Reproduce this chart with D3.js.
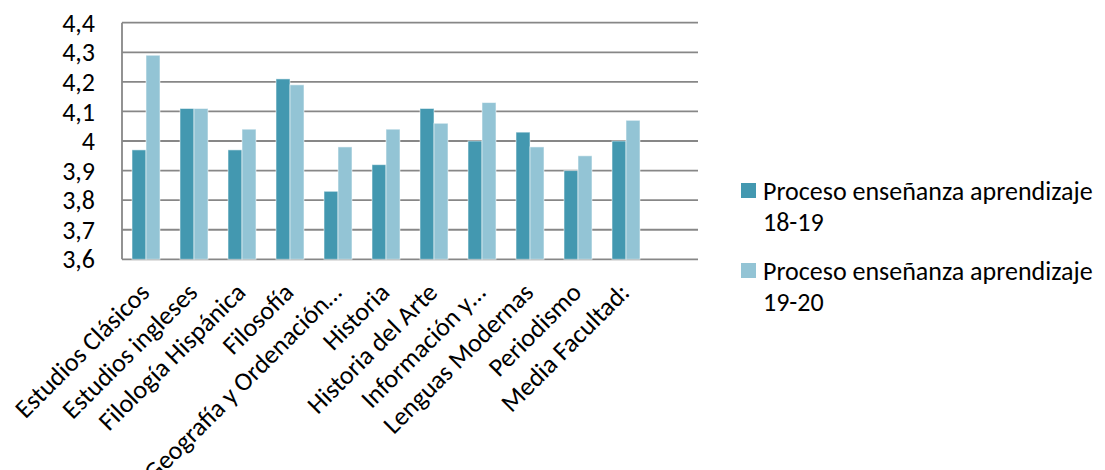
<!DOCTYPE html>
<html>
<head>
<meta charset="utf-8">
<script src="https://cdn.jsdelivr.net/npm/d3@7"></script>
<style>
  html, body { margin: 0; padding: 0; background: #fff; }
  svg { display: block; font-family: Carlito, Calibri, Lato, sans-serif; }
</style>
</head>
<body>
<svg id="chart" width="1105" height="470"></svg>
<script>
// ---- data ----
const categories = [
  "Estudios Clásicos", "Estudios ingleses", "Filología Hispánica", "Filosofía",
  "Geografía y Ordenación…", "Historia", "Historia del Arte", "Información y…",
  "Lenguas Modernas", "Periodismo", "Media Facultad:", ""
];
const seriesNames = ["Proceso enseñanza aprendizaje 18-19", "Proceso enseñanza aprendizaje 19-20"];
const values1819 = [3.97, 4.11, 3.97, 4.21, 3.83, 3.92, 4.11, 4.00, 4.03, 3.90, 4.00];
const values1920 = [4.29, 4.11, 4.04, 4.19, 3.98, 4.04, 4.06, 4.13, 3.98, 3.95, 4.07];
const yTickValues = [3.6, 3.7, 3.8, 3.9, 4.0, 4.1, 4.2, 4.3, 4.4];
const yTickLabels = ["3,6", "3,7", "3,8", "3,9", "4", "4,1", "4,2", "4,3", "4,4"];
const legendLines = [["Proceso enseñanza aprendizaje", "18-19"], ["Proceso enseñanza aprendizaje", "19-20"]];
const colors = ["#4398B0", "#93C4D5"];

// ---- layout ----
const plot = { left: 122, right: 698, top: 22.7, bottom: 259.3 };
const svg = d3.select("#chart");
const gridColor = "#878787";
const fontSize = 26;

const y = d3.scaleLinear().domain([3.6, 4.4]).range([plot.bottom, plot.top]);
const x0 = d3.scaleBand().domain(d3.range(categories.length))
  .range([plot.left, plot.right]).paddingInner(20 / 48).paddingOuter(10 / 48);
const x1 = d3.scaleBand().domain([0, 1]).range([0, x0.bandwidth()]);

// gridlines
svg.append("g").selectAll("line").data(yTickValues).join("line")
  .attr("x1", plot.left).attr("x2", plot.right)
  .attr("y1", d => y(d)).attr("y2", d => y(d))
  .attr("stroke", gridColor).attr("stroke-width", 1.8);

// left axis line
svg.append("line")
  .attr("x1", plot.left).attr("x2", plot.left)
  .attr("y1", y(4.4)).attr("y2", y(3.6))
  .attr("stroke", gridColor).attr("stroke-width", 1.8);

// y tick labels
svg.append("g").selectAll("text").data(yTickValues).join("text")
  .attr("x", 95).attr("y", d => y(d)).attr("dy", "0.35em")
  .attr("text-anchor", "end").attr("font-size", fontSize).attr("fill", "#000")
  .text((d, i) => yTickLabels[i]);

// bars
const series = [values1819, values1920];
series.forEach((vals, s) => {
  svg.append("g").selectAll("rect").data(vals).join("rect")
    .attr("x", (d, i) => x0(i) + x1(s))
    .attr("width", x1.bandwidth())
    .attr("y", d => y(d))
    .attr("height", d => y(3.6) - y(d))
    .attr("fill", colors[s])
    .attr("stroke", "#ffffff").attr("stroke-opacity", 0.55).attr("stroke-width", 1);
});

// category labels
svg.append("g").selectAll("text").data(categories).join("text")
  .attr("transform", (d, i) => {
    const cx = x0(i) + x0.bandwidth() / 2;
    return `translate(${cx + 5},${294}) rotate(-45)`;
  })
  .attr("text-anchor", "end").attr("font-size", fontSize).attr("fill", "#000")
  .text(d => d);

// legend
const lg = svg.append("g");
legendLines.forEach((lines, i) => {
  const top = 183 + i * 80;
  lg.append("rect").attr("x", 741).attr("y", top).attr("width", 15).attr("height", 15)
    .attr("fill", colors[i]);
  lines.forEach((t, j) => {
    lg.append("text").attr("x", 763).attr("y", top + 17 + j * 31)
      .attr("font-size", fontSize).attr("fill", "#000").text(t);
  });
});
</script>
</body>
</html>
